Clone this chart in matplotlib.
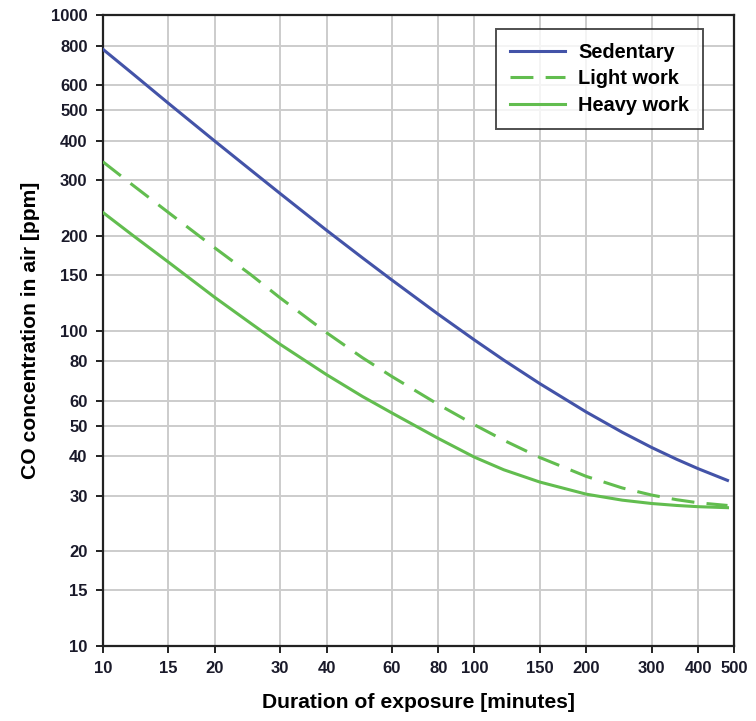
import matplotlib.pyplot as plt
from matplotlib.ticker import FixedLocator, NullLocator, FixedFormatter

plt.rcParams['font.family'] = ['Liberation Sans', 'DejaVu Sans']

# values
minutes = [10, 12, 15, 20, 25, 30, 40, 50, 60, 80, 100, 120, 150, 200, 250, 300, 350, 400, 480]
sedentary = [780, 654, 526, 399, 323, 272, 208, 170, 144.6, 112.6, 93.4, 80.6, 67.9, 55.2, 47.6, 42.6, 39.1, 36.5, 33.5]
light_work = [343, 290, 237, 183, 150.5, 127, 98.5, 82, 71.5, 58.3, 50.3, 44.9, 39.6, 34.5, 31.7, 30.1, 29.1, 28.45, 27.9]
heavy_work = [237, 201, 165, 127.5, 105.5, 90.5, 72.5, 61.8, 54.8, 45.5, 39.7, 36.2, 33.1, 30.3, 29.0, 28.3, 27.9, 27.65, 27.45]

xticks = [10, 15, 20, 30, 40, 60, 80, 100, 150, 200, 300, 400, 500]
yticks = [10, 15, 20, 30, 40, 50, 60, 80, 100, 150, 200, 300, 400, 500, 600, 800, 1000]

blue = '#4353a8'
green = '#62bd4f'

fig = plt.figure(figsize=(7.56, 7.21), dpi=100)
ax = fig.add_axes([0.136, 0.104, 0.835, 0.875])

ax.plot(minutes, sedentary, color=blue, lw=2.2, label='Sedentary', zorder=3)
ax.plot(minutes, light_work, color=green, lw=2.2, ls=(0, (7.5, 4)), label='Light work', zorder=3)
ax.plot(minutes, heavy_work, color=green, lw=2.2, label='Heavy work', zorder=3)

ax.set_xscale('log')
ax.set_yscale('log')
ax.set_xlim(10, 500)
ax.set_ylim(10, 1000)

ax.xaxis.set_major_locator(FixedLocator(xticks))
ax.xaxis.set_major_formatter(FixedFormatter([str(t) for t in xticks]))
ax.xaxis.set_minor_locator(NullLocator())
ax.yaxis.set_major_locator(FixedLocator(yticks))
ax.yaxis.set_major_formatter(FixedFormatter([str(t) for t in yticks]))
ax.yaxis.set_minor_locator(NullLocator())

ax.grid(True, color='#cccccc', lw=1.4, zorder=0)
ax.set_axisbelow(True)
for s in ax.spines.values():
    s.set_color('#222222')
    s.set_linewidth(1.6)

ax.tick_params(axis='both', direction='out', length=5, width=1.4, color='#222222',
               labelsize=12, labelcolor='#1a1a2a', pad=6)
for lab in ax.get_xticklabels() + ax.get_yticklabels():
    lab.set_fontweight('bold')

ax.set_xlabel('Duration of exposure [minutes]', fontsize=15.2, fontweight='bold', labelpad=12)
ax.set_ylabel('CO concentration in air [ppm]', fontsize=15.2, fontweight='bold', labelpad=8)

leg = ax.legend(loc='upper right', bbox_to_anchor=(0.951, 0.978), borderaxespad=0,
                frameon=True, fancybox=False, edgecolor='#222222',
                prop={'weight': 'bold', 'size': 14.4},
                handlelength=2.75, borderpad=0.7, labelspacing=0.37, handletextpad=0.65)
leg.get_frame().set_linewidth(1.4)

fig.savefig('out.png', dpi=100)
